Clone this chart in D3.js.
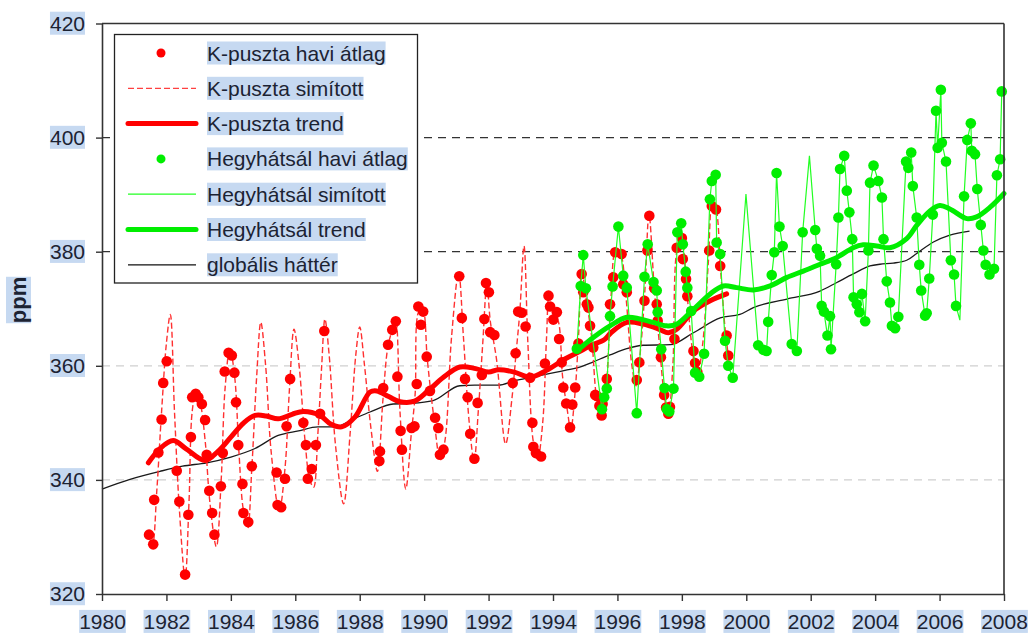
<!DOCTYPE html>
<html>
<head>
<meta charset="utf-8">
<script src="https://cdn.jsdelivr.net/npm/d3@7"></script>
<style>
  body { margin: 0; background: #fff; }
  text { font-family: "Liberation Sans", Arial, sans-serif; }
</style>
</head>
<body>
<svg id="chart" width="1031" height="635"></svg>
<script>
// ---- data: [year, ppm] ----
const yearTicks = [1980,1982,1984,1986,1988,1990,1992,1994,1996,1998,2000,2002,2004,2006,2008];
const ppmTicks = [320,340,360,380,400,420];
const gridDark = [380,400];
const gridLight = [340,360];

// K-puszta monthly means
const kpMonthly = [
  [1981.46,330.4],[1981.59,328.7],[1981.62,336.5],[1981.75,344.8],[1981.85,350.6],[1981.90,357.0],[1982.01,360.8],
  [1982.32,341.6],[1982.40,336.2],[1982.58,323.4],[1982.68,333.9],[1982.76,347.5],[1982.80,354.5],[1982.91,355.1],[1982.99,354.5],
  [1983.10,353.3],[1983.20,350.5],[1983.25,344.4],[1983.33,338.1],[1983.42,334.2],[1983.49,330.4],[1983.69,338.9],[1983.75,344.7],[1983.81,359.0],[1983.93,362.3],
  [1984.03,361.8],[1984.11,358.8],[1984.16,353.6],[1984.23,346.1],[1984.36,339.3],[1984.39,334.2],[1984.54,332.6],[1984.65,342.4],
  [1985.42,341.3],[1985.45,335.6],[1985.56,335.2],[1985.68,340.2],[1985.73,349.4],[1985.84,357.7],
  [1986.25,350.0],[1986.33,346.1],[1986.39,340.2],[1986.51,341.9],[1986.64,346.1],[1986.77,351.6],[1986.90,366.1],
  [1988.61,343.3],[1988.63,345.0],[1988.73,356.1],[1988.88,363.7],[1989.01,366.3],[1989.12,367.8],[1989.17,358.1],[1989.27,348.6],[1989.31,345.3],
  [1989.61,349.1],[1989.70,349.4],[1989.77,356.8],[1989.82,370.4],[1989.90,367.2],[1989.97,369.5],
  [1990.08,361.6],[1990.18,355.6],[1990.34,350.9],[1990.44,349.1],[1990.49,344.4],[1990.60,345.3],
  [1991.09,375.7],[1991.17,368.4],[1991.27,357.7],[1991.35,354.5],[1991.43,348.1],[1991.56,343.7],[1991.66,353.5],[1991.79,358.4],[1991.87,368.2],[1991.92,374.5],
  [1992.01,372.9],[1992.05,365.9],[1992.18,365.4],[1992.75,357.0],[1992.84,362.2],[1992.92,369.5],
  [1993.03,369.3],[1993.15,366.9],[1993.29,357.9],[1993.36,350.0],[1993.39,345.8],[1993.47,344.7],[1993.63,344.1],[1993.75,360.4],[1993.86,372.3],[1993.91,370.4],
  [1994.01,368.1],[1994.12,369.4],[1994.19,364.7],[1994.27,360.6],[1994.32,356.2],[1994.41,353.4],[1994.53,349.2],[1994.60,353.2],[1994.69,356.2],[1994.79,363.9],[1994.89,376.1],[1994.94,372.9],
  [1995.05,370.8],[1995.10,370.2],[1995.15,367.0],[1995.25,363.2],[1995.31,354.9],[1995.36,354.7],[1995.44,353.0],[1995.51,351.3],[1995.54,353.3],[1995.67,357.7],[1995.77,370.8],[1995.87,375.5],[1995.93,379.9],
  [1996.13,379.6],[1996.18,374.3],[1996.29,372.9],[1996.60,357.5],[1996.68,360.6],[1996.84,371.4],[1996.93,380.2],[1996.99,386.3],
  [1997.14,373.6],[1997.22,370.8],[1997.25,367.9],[1997.35,361.5],[1997.45,354.9],[1997.51,352.7],[1997.58,351.6],[1997.63,352.8],[1997.77,364.7],[1997.84,380.7],
  [1998.00,382.4],[1998.03,378.7],[1998.13,375.2],[1998.17,372.2],[1998.36,362.6],[1998.41,360.5],[1998.48,358.9],[1998.85,380.2],[1998.93,388.0],
  [1999.06,387.4],[1999.19,377.5],[1999.39,365.3],[1999.44,361.8]
];

// K-puszta smoothed curve
const kpSmooth = [
  [1981.45,331.0],[1981.57,328.8],[1981.70,338],[1981.85,352],[1982.00,364],[1982.12,369.0],[1982.25,352],[1982.40,335],[1982.58,322.8],
  [1982.70,336],[1982.80,352],[1982.92,355.5],[1983.05,353.5],[1983.20,347],[1983.35,336],[1983.55,328.3],[1983.70,340],[1983.82,356],
  [1983.97,363.0],[1984.12,358],[1984.25,345],[1984.38,335],[1984.52,331.5],[1984.65,342],[1984.80,358],[1984.93,367.6],[1985.08,360],
  [1985.25,345],[1985.50,334.6],[1985.68,342],[1985.82,356],[1985.96,366.4],[1986.12,360],[1986.30,347],[1986.45,340],[1986.57,338.7],
  [1986.70,348],[1986.82,360],[1986.92,368.2],[1987.05,362],[1987.25,346],[1987.50,335.8],[1987.70,348],[1987.88,362],[1988.00,366.8],
  [1988.15,360],[1988.35,349],[1988.55,341.5],[1988.72,354],[1988.88,363.5],[1989.05,367],[1989.12,368.3],[1989.25,352],[1989.43,338.4],
  [1989.60,348],[1989.72,355],[1989.83,369.5],[1989.95,370],[1990.10,361],[1990.30,351],[1990.50,343.5],[1990.65,347],[1990.85,365],
  [1991.07,376.3],[1991.22,365],[1991.40,350],[1991.55,343.3],[1991.68,352],[1991.82,364],[1991.95,374.5],[1992.05,368],[1992.25,361],
  [1992.53,346.3],[1992.72,354],[1992.85,362],[1992.97,369.5],[1993.10,381.0],[1993.22,364],[1993.38,347],[1993.52,343.5],[1993.68,350],
  [1993.80,365],[1993.88,372.3],[1994.05,368.5],[1994.15,368],[1994.30,358],[1994.45,352],[1994.55,348.8],[1994.68,355],[1994.80,366],
  [1994.89,376.5],[1995.05,371],[1995.20,365],[1995.35,354.5],[1995.50,351],[1995.65,356],[1995.80,372],[1995.95,380.2],[1996.10,379.5],
  [1996.25,373],[1996.45,360],[1996.58,356.5],[1996.72,363],[1996.85,373],[1996.98,386.5],[1997.15,373],[1997.30,364],[1997.45,355],
  [1997.58,351.3],[1997.72,360],[1997.84,380],[1997.99,382.6],[1998.15,373.5],[1998.30,364],[1998.48,358.3],[1998.65,364],[1998.82,378],
  [1998.95,388.6],[1999.06,387.5],[1999.20,377],[1999.35,366],[1999.45,361.5]
];

// K-puszta trend
const kpTrend = [
  [1981.44,343.0],[1981.8,345.5],[1982.21,346.9],[1982.6,345.5],[1983.2,343.4],[1983.6,345.0],[1984.0,347.5],[1984.4,350.0],
  [1984.75,351.3],[1985.1,351.2],[1985.47,350.7],[1985.9,351.5],[1986.25,352.0],[1986.77,351.3],[1987.1,349.8],[1987.44,349.3],
  [1987.85,351.0],[1988.32,355.4],[1988.53,355.6],[1988.9,354.6],[1989.25,353.7],[1989.7,353.8],[1990.1,355.5],[1990.6,358.0],
  [1991.11,359.8],[1991.6,359.5],[1992.0,358.9],[1992.3,359.3],[1992.8,358.9],[1993.29,358.0],[1993.8,359.2],[1994.37,361.2],
  [1994.79,362.4],[1995.15,363.5],[1995.6,364.6],[1995.8,365.8],[1996.29,367.6],[1996.8,367.3],[1997.3,366.4],[1997.58,365.8],
  [1997.84,366.4],[1998.36,369.6],[1998.88,371.4],[1999.39,372.6]
];

// Hegyhátsál monthly means
const hhMonthly = [
  [1994.74,363.0],[1994.86,374.0],[1994.94,379.4],[1995.02,373.6],[1995.52,352.4],[1995.59,354.5],[1995.67,356.0],[1995.77,368.7],[1995.85,373.9],
  [1996.03,384.4],[1996.18,375.8],[1996.29,373.7],[1996.60,351.7],[1996.84,375.6],[1996.94,381.3],
  [1997.12,374.7],[1997.22,373.2],[1997.25,369.4],[1997.36,362.9],[1997.46,356.1],[1997.53,352.4],[1997.61,352.0],[1997.74,356.0],[1997.86,383.4],[1997.98,385.0],
  [1998.03,381.3],[1998.12,376.5],[1998.17,373.7],[1998.29,369.6],[1998.41,358.8],[1998.54,358.1],[1998.69,362.1],[1998.87,389.2],[1998.93,392.4],
  [1999.05,393.5],[1999.08,381.6],[1999.19,379.6],[1999.34,364.4],[1999.44,360.0],[1999.58,357.9],
  [2000.37,363.6],[2000.53,362.8],[2000.63,362.6],[2000.68,367.7],[2000.79,375.9],[2000.87,379.9],[2000.94,393.8],
  [2001.03,384.4],[2001.13,381.0],[2001.41,363.8],[2001.57,362.6],[2001.75,383.4],
  [2002.14,383.8],[2002.19,380.5],[2002.29,379.3],[2002.34,370.5],[2002.41,369.5],[2002.52,365.3],[2002.60,368.7],[2002.63,362.9],[2002.79,377.8],[2002.86,386.0],[2002.91,394.5],
  [2003.04,396.8],[2003.12,390.7],[2003.20,386.9],[2003.29,382.2],[2003.33,372.0],[2003.43,370.8],[2003.51,369.4],[2003.59,372.6],[2003.69,367.8],[2003.79,380.2],[2003.84,392.1],[2003.95,395.1],
  [2004.10,392.4],[2004.21,389.5],[2004.26,382.2],[2004.36,374.8],[2004.46,371.1],[2004.52,367.0],[2004.62,366.6],[2004.72,368.6],[2004.96,395.8],
  [2005.03,394.7],[2005.12,397.4],[2005.17,391.5],[2005.29,386.0],[2005.37,377.7],[2005.43,373.2],[2005.55,368.8],[2005.60,369.2],[2005.68,375.3],[2005.79,386.5],[2005.89,404.7],[2005.94,398.2],
  [2006.04,408.4],[2006.07,399.1],[2006.20,395.8],[2006.35,378.5],[2006.45,376.0],[2006.51,370.5],[2006.76,389.7],[2006.86,399.6],[2006.97,402.5],
  [2007.00,397.7],[2007.10,397.1],[2007.17,391.0],[2007.28,384.7],[2007.36,380.2],[2007.43,377.7],[2007.55,376.0],[2007.69,377.0],[2007.78,393.4],[2007.88,396.2],[2007.93,408.1]
];

// Hegyhátsál smoothed curve: extra values where monthly means are missing
const hhSmoothGaps = [[1999.99,390.1],[2001.96,396.8],[2006.63,368.0]];

// Hegyhátsál trend
const hhTrend = [
  [1994.74,362.6],[1995.26,365.0],[1995.77,367.0],[1996.29,368.5],[1996.7,368.2],[1997.12,367.6],[1997.53,367.0],[1997.84,367.3],
  [1998.36,369.9],[1998.88,372.6],[1999.29,374.0],[1999.7,373.7],[2000.22,373.3],[2000.74,374.0],[2001.26,375.5],[2001.77,376.6],
  [2002.29,377.8],[2002.81,379.0],[2003.32,380.7],[2003.63,381.2],[2004.05,381.0],[2004.46,380.7],[2004.98,382.3],[2005.29,384.6],
  [2005.71,387.2],[2006.01,388.1],[2006.32,387.5],[2006.85,385.8],[2007.15,386.1],[2007.57,387.8],[2008.0,390.2]
];

// global background
const globalBg = [
  [1980.0,338.4],[1980.87,340.1],[1981.8,341.5],[1982.5,342.4],[1983.25,343.0],[1984.0,344.0],[1984.75,345.5],[1985.47,347.8],
  [1986.1,348.6],[1986.7,349.3],[1987.23,349.3],[1987.85,350.8],[1988.32,351.9],[1989.04,353.3],[1989.55,353.4],[1990.28,353.9],
  [1991.11,356.5],[1991.57,356.6],[1992.3,356.6],[1992.82,357.4],[1993.34,358.0],[1994.37,359.2],[1994.9,359.9],[1995.25,360.7],
  [1995.77,361.9],[1996.29,363.0],[1996.8,363.6],[1997.64,363.7],[1998.36,365.8],[1999.19,368.4],[1999.8,369.0],[2000.22,370.2],
  [2001.26,371.7],[2002.29,373.1],[2002.81,374.6],[2003.32,376.1],[2003.84,377.5],[2004.15,377.8],[2004.56,378.0],[2004.98,378.5],
  [2005.29,379.7],[2005.81,381.7],[2006.32,382.9],[2006.93,383.6]
];

const legendItems = [
  {label: "K-puszta havi átlag", kind: "dot", color: "#ff0000"},
  {label: "K-puszta simított", kind: "dash", color: "#ff4040"},
  {label: "K-puszta trend", kind: "thick", color: "#ff0000"},
  {label: "Hegyhátsál havi átlag", kind: "dot", color: "#00ee00"},
  {label: "Hegyhátsál simított", kind: "thin", color: "#22ff22"},
  {label: "Hegyhátsál trend", kind: "thick", color: "#00ee00"},
  {label: "globális háttér", kind: "black", color: "#111"}
];

// ---- chart ----
const HL = "#c6d9f1";
const TXT = "#1c2333";
const svg = d3.select("#chart");
const x = d3.scaleLinear().domain([1980, 2008]).range([102, 1004]);
const y = d3.scaleLinear().domain([320, 420]).range([594, 23.5]);

const line = d3.line().x(d => x(d[0])).y(d => y(d[1]));

// horizontal gridlines
svg.append("g").selectAll("line").data(gridLight).join("line")
  .attr("x1", x(1980)).attr("x2", x(2008)).attr("y1", d => y(d)).attr("y2", d => y(d))
  .attr("stroke", "#cfcfcf").attr("stroke-width", 1.2).attr("stroke-dasharray", "8,6");
svg.append("g").selectAll("line").data(gridDark).join("line")
  .attr("x1", x(1980)).attr("x2", x(2008)).attr("y1", d => y(d)).attr("y2", d => y(d))
  .attr("stroke", "#333").attr("stroke-width", 1.2).attr("stroke-dasharray", "8,6");

// global background
svg.append("path").datum(globalBg)
  .attr("fill", "none").attr("stroke", "#1a1a1a").attr("stroke-width", 1.3)
  .attr("d", line.curve(d3.curveMonotoneX));

// K-puszta smoothed
svg.append("path").datum(kpSmooth)
  .attr("fill", "none").attr("stroke", "#ff3030").attr("stroke-width", 1.4).attr("stroke-dasharray", "6,3")
  .attr("d", d3.line().x(d => x(d[0])).y(d => y(d[1])).curve(d3.curveCatmullRom.alpha(0.5)));

// K-puszta monthly
svg.append("g").selectAll("circle").data(kpMonthly).join("circle")
  .attr("cx", d => x(d[0])).attr("cy", d => y(d[1])).attr("r", 5.3).attr("fill", "#ff0000");

// K-puszta trend
svg.append("path").datum(kpTrend)
  .attr("fill", "none").attr("stroke", "#ff0000").attr("stroke-width", 5).attr("stroke-linecap", "round")
  .attr("d", d3.line().x(d => x(d[0])).y(d => y(d[1])).curve(d3.curveCatmullRom.alpha(0.5)));

// Hegyhátsál smoothed
const hhSmooth = hhMonthly.concat(hhSmoothGaps).sort((a, b) => a[0] - b[0]);
svg.append("path").datum(hhSmooth)
  .attr("fill", "none").attr("stroke", "#22ff22").attr("stroke-width", 1.2)
  .attr("d", d3.line().x(d => x(d[0])).y(d => y(d[1])));

// Hegyhátsál monthly
svg.append("g").selectAll("circle").data(hhMonthly).join("circle")
  .attr("cx", d => x(d[0])).attr("cy", d => y(d[1])).attr("r", 5.3).attr("fill", "#00ee00");

// Hegyhátsál trend
svg.append("path").datum(hhTrend)
  .attr("fill", "none").attr("stroke", "#00ee00").attr("stroke-width", 5).attr("stroke-linecap", "round")
  .attr("d", d3.line().x(d => x(d[0])).y(d => y(d[1])).curve(d3.curveCatmullRom.alpha(0.5)));

// frame: top and right edges
svg.append("line").attr("x1", x(1980)).attr("x2", x(2008)).attr("y1", y(420)).attr("y2", y(420))
  .attr("stroke", "#333").attr("stroke-width", 1.6);
svg.append("line").attr("x1", x(2008)).attr("x2", x(2008)).attr("y1", y(420)).attr("y2", y(320))
  .attr("stroke", "#333").attr("stroke-width", 1.6);

// axes
const yAxis = svg.append("g").attr("transform", `translate(${x(1980)},0)`)
  .call(d3.axisLeft(y).tickValues(ppmTicks).tickSize(6).tickSizeOuter(0).tickPadding(11).tickFormat(d3.format("d")));
const xAxis = svg.append("g").attr("transform", `translate(0,${y(320)})`)
  .call(d3.axisBottom(x).tickValues(yearTicks).tickSize(7).tickSizeOuter(0).tickPadding(13).tickFormat(d3.format("d")));
[yAxis, xAxis].forEach(ax => {
  ax.select(".domain").attr("stroke", "#333").attr("stroke-width", 1.6);
  ax.selectAll(".tick line").attr("stroke", "#333").attr("stroke-width", 1.4);
  ax.selectAll(".tick text").attr("font-size", 21).attr("fill", TXT)
    .attr("font-family", "'Liberation Sans', Arial, sans-serif");
});

function highlight(sel) {
  sel.each(function () {
    const b = this.getBBox();
    d3.select(this.parentNode).insert("rect", () => this)
      .attr("x", b.x).attr("y", b.y).attr("width", b.width).attr("height", b.height)
      .attr("fill", HL).attr("transform", d3.select(this).attr("transform"));
  });
}
highlight(svg.selectAll(".tick text"));

// y axis title
const ttl = svg.append("g");
ttl.append("text").attr("transform", "translate(26,300) rotate(-90)")
  .attr("text-anchor", "middle").attr("font-size", 22).attr("font-weight", "bold").attr("fill", TXT).text("ppm");
highlight(ttl.selectAll("text"));

// legend
const lg = svg.append("g");
lg.append("rect").attr("x", 114.5).attr("y", 34.5).attr("width", 303).attr("height", 248.5)
  .attr("fill", "#fff").attr("stroke", "#222").attr("stroke-width", 1.3);
const rows = lg.selectAll("g.row").data(legendItems).join("g").attr("class", "row")
  .attr("transform", (d, i) => `translate(0,${53 + i * 35.3})`);
rows.each(function (d) {
  const g = d3.select(this);
  if (d.kind === "dot") {
    g.append("circle").attr("cx", 161).attr("cy", 0).attr("r", 4.5).attr("fill", d.color);
  } else {
    const w = d.kind === "thick" ? 5 : (d.kind === "black" ? 1.3 : 1.2);
    g.append("line").attr("x1", 128).attr("x2", 196).attr("y1", 0).attr("y2", 0)
      .attr("stroke", d.color).attr("stroke-width", w)
      .attr("stroke-linecap", d.kind === "thick" ? "round" : "butt")
      .attr("stroke-dasharray", d.kind === "dash" ? "6,3" : null);
  }
  g.append("text").attr("x", 207).attr("y", 7.5).attr("font-size", 21).attr("fill", TXT).text(d.label);
});
highlight(rows.selectAll("text"));
</script>
</body>
</html>
